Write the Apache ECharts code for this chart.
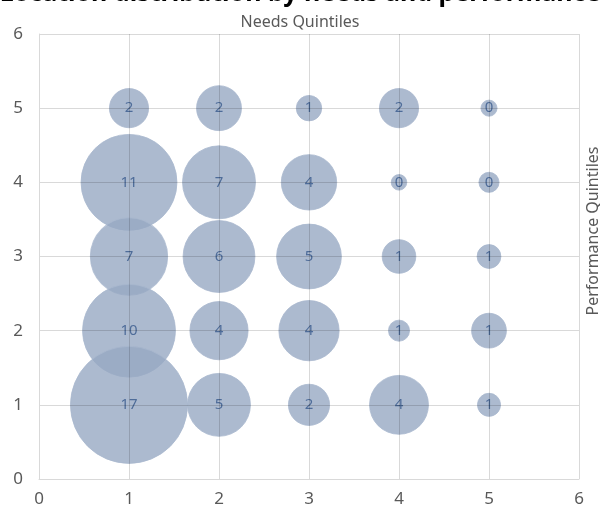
<!DOCTYPE html>
<html lang="en">
<head>
  <meta charset="UTF-8">
  <title>Location distribution</title>
  <script src="https://cdn.jsdelivr.net/npm/echarts@6/dist/echarts.min.js"></script>
</head>
<style>
  html, body { margin: 0; padding: 0; background: #fff; }
  #main { width: 600px; height: 506px; }
</style>
<body>
<div id="main"></div>
<script>
  // needs quintile (x), performance quintile (y), label count, bubble size weight
  const needs   = [1, 1, 1, 1, 1,  2, 2, 2, 2, 2,  3, 3, 3, 3, 3,  4, 4, 4, 4, 4,  5, 5, 5, 5, 5]
  const perf    = [5, 4, 3, 2, 1,  5, 4, 3, 2, 1,  5, 4, 3, 2, 1,  5, 4, 3, 2, 1,  5, 4, 3, 2, 1]
  const counts  = [2, 11, 7, 10, 17,  2, 7, 6, 4, 5,  1, 4, 5, 4, 2,  2, 0, 1, 1, 4,  0, 0, 1, 1, 1]
  const weights = [1.9, 11.4, 7.4, 10.7, 17,  2.5, 6.6, 6.4, 4.2, 4.9,  0.8, 3.8, 5.2, 4.5, 2.1,  1.9, 0.3, 1.4, 0.55, 4.3,  0.32, 0.5, 0.7, 1.5, 0.66]
  const ticks = [0, 1, 2, 3, 4, 5, 6]

  const data = needs.map((x, i) => [x, perf[i], weights[i], counts[i]])

  const grey = '#595959'
  // grid lines sit above the bubbles, so a translucent line reads darker over them
  const gridLine = { lineStyle: { color: 'rgba(0,0,0,0.15)' } }

  const chart = echarts.init(document.getElementById('main'))
  chart.setOption({
    animation: false,
    title: [
      {
        text: 'Location distribution by needs and performance',
        left: 'center',
        top: -24,
        textStyle: { fontFamily: 'Noto Sans', fontWeight: 'bold', fontSize: 25, color: '#000' }
      },
      {
        text: 'Needs Quintiles',
        left: 'center',
        top: 9,
        textStyle: { fontFamily: 'Noto Sans', fontWeight: 'normal', fontSize: 16, color: grey }
      }
    ],
    graphic: [{
      type: 'text',
      x: 593,
      y: 231,
      rotation: Math.PI / 2,
      style: {
        text: 'Performance Quintiles',
        font: '16px "Noto Sans"',
        fill: grey,
        align: 'center',
        verticalAlign: 'middle'
      }
    }],
    grid: { left: 39, right: 21, top: 34, bottom: 27, outerBoundsMode: 'none', containLabel: false },
    xAxis: {
      type: 'value',
      z: 10,
      min: ticks[0],
      max: ticks[ticks.length - 1],
      interval: 1,
      axisLine: { show: true, lineStyle: { color: '#d9d9d9' } },
      axisTick: { show: false },
      splitLine: gridLine,
      axisLabel: { color: grey, fontFamily: 'Noto Sans', fontSize: 17, margin: 12 }
    },
    yAxis: {
      type: 'value',
      z: 10,
      min: ticks[0],
      max: ticks[ticks.length - 1],
      interval: 1,
      axisLine: { show: true, lineStyle: { color: '#d9d9d9' } },
      axisTick: { show: false },
      splitLine: gridLine,
      axisLabel: { color: grey, fontFamily: 'Noto Sans', fontSize: 17, margin: 16 }
    },
    series: [{
      type: 'scatter',
      data: data,
      symbolSize: d => 28.4 * Math.sqrt(d[2]),
      itemStyle: { color: '#97a9c3', borderColor: '#a9b8ce', borderWidth: 1 },
      label: {
        show: true,
        position: 'inside',
        formatter: p => p.value[3],
        color: '#37598c',
        fontFamily: 'Noto Sans',
        fontSize: 15
      }
    }]
  })
</script>
</body>
</html>
